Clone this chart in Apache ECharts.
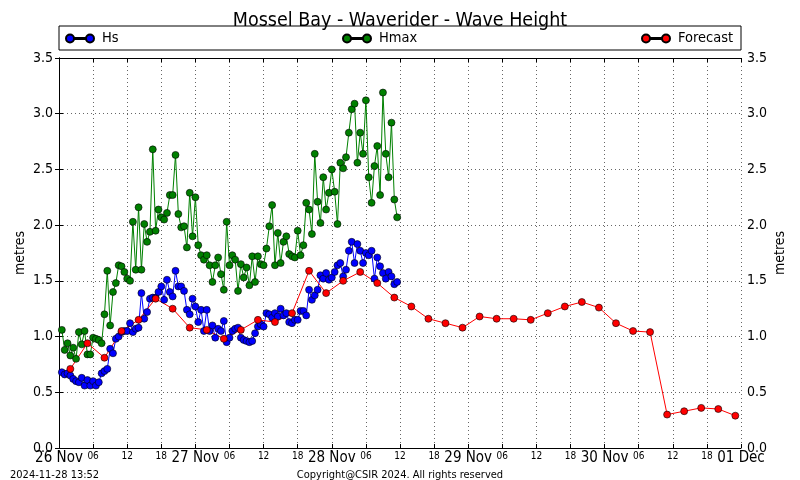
<!DOCTYPE html>
<html>
<head>
<meta charset="utf-8">
<script src="https://cdn.jsdelivr.net/npm/echarts@6/dist/echarts.min.js"></script>
<style>
html,body{margin:0;padding:0;background:#fff;}
#chart{width:800px;height:480px;}
</style>
</head>
<body>
<div id="chart"></div>
<script>
// ---- data (hours since 26 Nov 00:00) ----
var obsStart = 0.5;      // first observation hour
var obsStep = 0.5;       // observation interval (hours)
var hsValues = [
  0.68,0.66,0.67,0.65,0.62,0.60,0.59,0.63,0.56,0.61,0.56,0.60,0.56,0.59,0.67,0.69,0.71,0.89,0.85,
  0.98,1.00,1.04,1.05,1.05,1.12,1.04,1.07,1.08,1.39,1.16,1.22,1.34,1.35,1.35,1.40,1.45,1.33,1.51,1.40,
  1.36,1.59,1.45,1.45,1.41,1.24,1.20,1.34,1.27,1.13,1.24,1.05,
  1.24,1.05,1.10,0.99,1.07,1.05,1.14,0.95,0.99,1.05,1.07,1.08,0.99,0.97,0.96,0.95,0.96,1.03,1.09,1.11,
  1.09,1.21,1.20,1.17,1.21,1.18,1.25,1.19,1.21,1.13,1.12,1.15,1.15,1.23,1.23,1.19,1.42,1.33,1.37,1.42,
  1.55,1.52,1.57,1.51,1.53,1.58,1.64,1.66,
  1.54,1.60,1.77,1.85,1.66,1.83,1.77,1.66,1.75,1.73,1.77,1.52,1.71,1.63,1.57,1.52,1.58,1.54,1.47,1.49
];
var hmaxValues = [
  1.06,0.88,0.94,0.83,0.90,0.80,1.04,0.93,1.05,0.84,0.84,0.99,0.98,0.97,0.94,1.20,1.59,1.10,1.40,
  1.48,1.64,1.63,1.58,1.52,1.50,2.03,1.60,2.16,1.60,2.01,1.85,1.94,2.68,1.95,2.14,2.07,2.05,2.11,2.27,
  2.27,2.63,2.10,1.98,1.99,1.80,2.29,1.90,2.25,1.82,1.73,1.69,1.73,1.64,1.49,1.64,1.71,1.56,1.42,2.03,
  1.64,1.73,1.69,1.41,1.65,1.53,1.62,1.46,1.72,1.49,1.72,1.65,1.64,1.79,1.99,2.18,1.64,1.93,1.66,1.85,
  1.90,1.74,1.72,1.71,1.95,1.73,1.82,2.20,2.14,1.92,2.64,2.21,2.02,2.43,2.14,2.29,2.50,2.30,
  2.01,2.56,2.51,2.61,2.83,3.04,3.09,2.56,2.83,2.64,3.12,2.43,2.20,2.53,2.71,2.27,3.19,2.64,2.43,2.92,2.23,2.07
];
var fcStart = 2;   // first forecast hour
var fcStep = 3;    // forecast interval (hours)
var forecastValues = [
  0.71,0.94,0.81,1.05,1.15,1.34,1.25,1.08,1.06,0.98,1.06,1.15,1.13,1.21,1.59,1.39,1.50,1.58,1.48,1.35,
  1.27,1.16,1.12,1.08,1.18,1.16,1.16,1.15,1.21,1.27,1.31,1.26,1.12,1.05,1.04,0.30,0.33,0.36,0.35,0.29
];
var dayLabels = ['26 Nov','27 Nov','28 Nov','29 Nov','30 Nov','01 Dec'];
var hourLabels = {6:'06',12:'12',18:'18'};
var yTicks = ['0.0','0.5','1.0','1.5','2.0','2.5','3.0','3.5'];
var titleText = 'Mossel Bay - Waverider - Wave Height';
var stampText = '2024-11-28 13:52';
var copyText = 'Copyright@CSIR 2024. All rights reserved';

function pairs(start, step, vals){
  return vals.map(function(v,i){ return [start + i*step, v]; });
}

var FONT = "'DejaVu Sans Condensed','DejaVu Sans',sans-serif";
var legendIcon = 'path://M0,4A4,4 0 1,0 8,4A4,4 0 1,0 0,4Z M20,4A4,4 0 1,0 28,4A4,4 0 1,0 20,4Z M8,3.5L20,3.5L20,4.5L8,4.5Z';

var chart = echarts.init(document.getElementById('chart'), null, {renderer:'canvas'});

function xLabel(v){
  if (v % 24 === 0) return '{d|' + dayLabels[v/24] + '}';
  return '{h|' + hourLabels[v % 24] + '}';
}
function yLabel(v){ return yTicks[Math.round(v/0.5)]; }

var legendBase = {
  orient:'horizontal', top:31, padding:[0,5], itemWidth:28, itemHeight:8, itemGap:8,
  textStyle:{fontFamily:FONT, fontSize:14.5, color:'#000', padding:[0,0,0,3]}, selectedMode:false
};

var option = {
  animation:false,
  backgroundColor:'#fff',
  textStyle:{fontFamily:FONT},
  title:{text:titleText, left:'center', top:6,
    textStyle:{fontFamily:FONT, fontSize:19.5, fontWeight:'normal', color:'#000'}},
  graphic:[
    {type:'rect', shape:{x:59, y:26, width:682, height:24}, style:{fill:'#fff', stroke:'#000', lineWidth:1}, z:0},
    {type:'text', left:10, top:470, style:{text:stampText, fontFamily:FONT, fontSize:11, fill:'#000'}},
    {type:'text', left:'center', top:470, style:{text:copyText, fontFamily:FONT, fontSize:11, fill:'#000'}}
  ],
  legend:[
    Object.assign({}, legendBase, {left:60, data:[{name:'Hs', icon:legendIcon}]}),
    Object.assign({}, legendBase, {left:337, data:[{name:'Hmax', icon:legendIcon}]}),
    Object.assign({}, legendBase, {left:636, data:[{name:'Forecast', icon:legendIcon}]})
  ],
  grid:{left:59, right:59, top:58, bottom:32, show:false},
  xAxis:[
    {type:'value', min:0, max:120, interval:6, position:'bottom',
      axisLine:{show:true, onZero:false, lineStyle:{color:'#000', width:1}},
      axisTick:{show:true, inside:true, length:4, lineStyle:{color:'#000'}},
      minorTick:{show:false}, minorSplitLine:{show:false},
      splitLine:{show:true, lineStyle:{color:'#666', type:[1,3], width:1}},
      axisLabel:{show:true, margin:3, formatter:xLabel, showMinLabel:true, showMaxLabel:true,
        rich:{
          d:{fontFamily:FONT, fontSize:15, color:'#000'},
          h:{fontFamily:FONT, fontSize:10, color:'#000', padding:[0,0,7,0]}
        }}
    },
    {type:'value', min:0, max:120, interval:6, position:'top',
      axisLine:{show:true, onZero:false, lineStyle:{color:'#000', width:1}},
      axisTick:{show:true, inside:true, length:4, lineStyle:{color:'#000'}},
      splitLine:{show:false}, axisLabel:{show:false}
    }
  ],
  yAxis:[
    {type:'value', min:0, max:3.5, interval:0.5, position:'left',
      name:'metres', nameLocation:'middle', nameGap:32, nameRotate:90, nameMoveOverlap:false,
      nameTextStyle:{fontFamily:FONT, fontSize:14, color:'#000'},
      axisLine:{show:true, lineStyle:{color:'#000', width:1}},
      axisTick:{show:true, inside:true, length:4, lineStyle:{color:'#000'}},
      splitLine:{show:true, lineStyle:{color:'#666', type:[1,3], width:1}},
      axisLabel:{formatter:yLabel, fontFamily:FONT, fontSize:14, color:'#000', margin:6}
    },
    {type:'value', min:0, max:3.5, interval:0.5, position:'right',
      name:'metres', nameLocation:'middle', nameGap:32, nameRotate:90, nameMoveOverlap:false,
      nameTextStyle:{fontFamily:FONT, fontSize:14, color:'#000'},
      axisLine:{show:true, lineStyle:{color:'#000', width:1}},
      axisTick:{show:true, inside:true, length:4, lineStyle:{color:'#000'}},
      splitLine:{show:false},
      axisLabel:{formatter:yLabel, fontFamily:FONT, fontSize:14, color:'#000', margin:6}
    }
  ],
  series:[
    {name:'Hs', type:'line', xAxisIndex:0, yAxisIndex:0, data:pairs(obsStart, obsStep, hsValues),
      symbol:'circle', symbolSize:7, showAllSymbol:true,
      lineStyle:{color:'#0000ff', width:1},
      itemStyle:{color:'#0000ff', borderColor:'#000', borderWidth:0.6}},
    {name:'Hmax', type:'line', xAxisIndex:0, yAxisIndex:0, data:pairs(obsStart, obsStep, hmaxValues),
      symbol:'circle', symbolSize:7, showAllSymbol:true,
      lineStyle:{color:'#008000', width:1},
      itemStyle:{color:'#008000', borderColor:'#000', borderWidth:0.6}},
    {name:'Forecast', type:'line', xAxisIndex:0, yAxisIndex:0, data:pairs(fcStart, fcStep, forecastValues),
      symbol:'circle', symbolSize:7, showAllSymbol:true,
      lineStyle:{color:'#ff0000', width:1},
      itemStyle:{color:'#ff0000', borderColor:'#000', borderWidth:0.6}}
  ]
};
chart.setOption(option);
</script>
</body>
</html>
